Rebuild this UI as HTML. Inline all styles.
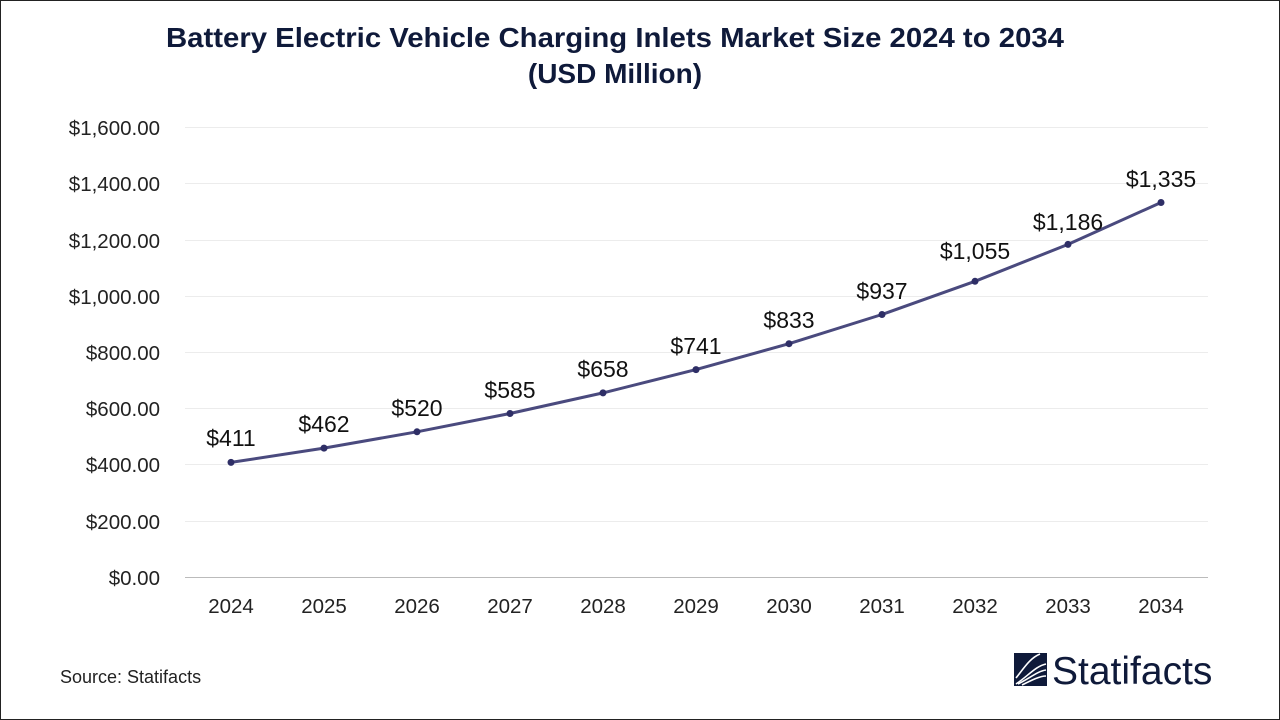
<!DOCTYPE html>
<html><head><meta charset="utf-8"><style>
html,body{margin:0;padding:0;background:#fff}
svg{display:block;font-family:"Liberation Sans",Arial,sans-serif}
</style></head><body>
<svg width="1280" height="720" viewBox="0 0 1280 720" xmlns="http://www.w3.org/2000/svg">
<rect x="0.5" y="0.5" width="1279" height="719" fill="#fff" stroke="#222" stroke-width="1"/>
<text x="615" y="47" text-anchor="middle" font-size="28" font-weight="bold" fill="#0f1a3a" textLength="898" lengthAdjust="spacingAndGlyphs">Battery Electric Vehicle Charging Inlets Market Size 2024 to 2034</text>
<text x="615" y="83" text-anchor="middle" font-size="28" font-weight="bold" fill="#0f1a3a">(USD Million)</text>
<g stroke="#ececec" stroke-width="1">
<line x1="185" x2="1208" y1="127.5" y2="127.5"/><line x1="185" x2="1208" y1="183.5" y2="183.5"/>
<line x1="185" x2="1208" y1="240.5" y2="240.5"/><line x1="185" x2="1208" y1="296.5" y2="296.5"/>
<line x1="185" x2="1208" y1="352.5" y2="352.5"/><line x1="185" x2="1208" y1="408.5" y2="408.5"/>
<line x1="185" x2="1208" y1="464.5" y2="464.5"/><line x1="185" x2="1208" y1="521.5" y2="521.5"/>
</g>
<line x1="185" x2="1208" y1="577.5" y2="577.5" stroke="#bbb"/>
<g font-size="20.5" fill="#222" text-anchor="end">
<text x="160" y="135">$1,600.00</text><text x="160" y="191">$1,400.00</text>
<text x="160" y="248">$1,200.00</text><text x="160" y="304">$1,000.00</text>
<text x="160" y="360">$800.00</text><text x="160" y="416">$600.00</text>
<text x="160" y="472">$400.00</text><text x="160" y="529">$200.00</text>
<text x="160" y="585">$0.00</text>
</g>
<g font-size="20.5" fill="#222" text-anchor="middle">
<text x="231" y="613">2024</text><text x="324" y="613">2025</text><text x="417" y="613">2026</text>
<text x="510" y="613">2027</text><text x="603" y="613">2028</text><text x="696" y="613">2029</text>
<text x="789" y="613">2030</text><text x="882" y="613">2031</text><text x="975" y="613">2032</text>
<text x="1068" y="613">2033</text><text x="1161" y="613">2034</text>
</g>
<polyline fill="none" stroke="#4a4a7e" stroke-width="3" stroke-linejoin="round" points="231,462.4 324,448.1 417,431.8 510,413.5 603,392.9 696,369.6 789,343.7 882,314.5 975,281.3 1068,244.4 1161,202.5"/>
<g fill="#2e2e66">
<circle cx="231" cy="462.4" r="3.5"/><circle cx="324" cy="448.1" r="3.5"/><circle cx="417" cy="431.8" r="3.5"/>
<circle cx="510" cy="413.5" r="3.5"/><circle cx="603" cy="392.9" r="3.5"/><circle cx="696" cy="369.6" r="3.5"/>
<circle cx="789" cy="343.7" r="3.5"/><circle cx="882" cy="314.5" r="3.5"/><circle cx="975" cy="281.3" r="3.5"/>
<circle cx="1068" cy="244.4" r="3.5"/><circle cx="1161" cy="202.5" r="3.5"/>
</g>
<g font-size="23" fill="#111" text-anchor="middle">
<text x="231" y="446">$411</text><text x="324" y="432">$462</text><text x="417" y="416">$520</text>
<text x="510" y="398">$585</text><text x="603" y="377">$658</text><text x="696" y="354">$741</text>
<text x="789" y="328">$833</text><text x="882" y="299">$937</text><text x="975" y="259">$1,055</text>
<text x="1068" y="230">$1,186</text><text x="1161" y="187">$1,335</text>
</g>
<text x="60" y="683" font-size="18" fill="#222">Source: Statifacts</text>
<rect x="1014" y="653" width="33" height="33" fill="#0f1a3a"/>
<g stroke="#fff" stroke-width="1.6" fill="none">
<path d="M1016,684 C1028,676 1036,666 1046,664"/>
<path d="M1018,684 C1030,678 1038,671 1046,670"/>
<path d="M1022,685 C1032,680 1040,676 1046,676"/>
<path d="M1016,678 C1024,668 1030,658 1040,654"/>
</g>
<text x="1052" y="684" font-size="39" fill="#0f1a3a">Statifacts</text>
</svg>
</body></html>
